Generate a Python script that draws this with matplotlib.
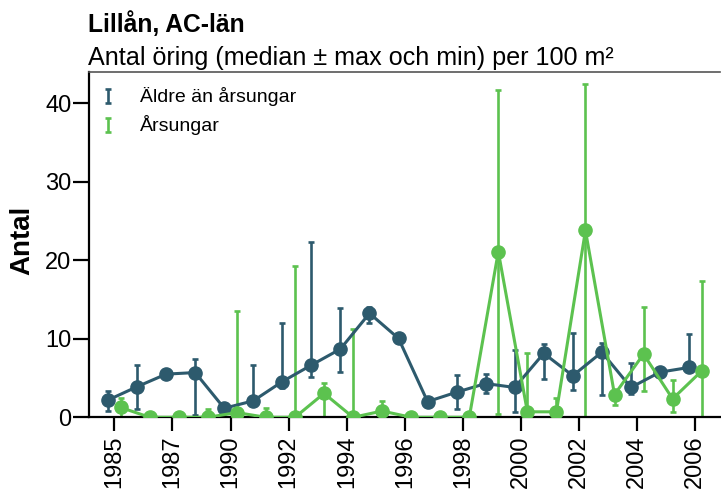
"""Lillån, AC-län: antal öring per 100 m2 (median, max, min)."""

import matplotlib
matplotlib.use("Agg")
import matplotlib.pyplot as plt  # type: ignore
from matplotlib.container import ErrorbarContainer
from matplotlib.legend_handler import HandlerErrorbar
import numpy as np

plt.rcParams["font.family"] = ["Liberation Sans", "DejaVu Sans"]

years = [1985, 1986, 1987, 1988, 1990, 1991, 1992, 1993, 1994, 1995, 1996,
         1997, 1998, 1999, 2000, 2001, 2002, 2003, 2004, 2005, 2006]

# Äldre än årsungar
old_med = [2.2, 3.9, 5.5, 5.7, 1.15, 2.1, 4.55, 6.65, 8.7, 13.25, 10.05,
           2.0, 3.2, 4.3, 3.8, 8.15, 5.3, 8.3, 3.8, 5.75, 6.35]
old_max = [3.4, 6.65, 5.6, 7.4, 1.2, 6.65, 12.0, 22.3, 13.9, 14.1, 10.1,
           2.1, 5.4, 5.5, 8.6, 9.35, 10.8, 9.5, 6.9, 5.8, 10.6]
old_min = [0.85, 1.05, 5.4, 0.3, 1.1, 1.6, 3.7, 5.1, 5.8, 12.0, 10.0,
           1.9, 1.0, 3.1, 0.7, 4.9, 3.5, 2.9, 3.0, 5.7, 6.0]

# Årsungar
yoy_med = [1.25, 0.0, 0.0, 0.0, 0.6, 0.0, 0.0, 3.05, 0.0, 0.8, 0.0,
           0.0, 0.0, 21.1, 0.7, 0.7, 23.8, 2.9, 8.05, 2.35, 5.9]
yoy_max = [2.4, 0.0, 0.0, 1.0, 13.5, 1.2, 19.3, 4.4, 11.3, 2.1, 0.0,
           0.0, 0.0, 41.7, 8.2, 2.4, 42.45, 3.3, 14.0, 4.75, 17.4]
yoy_min = [0.0, 0.0, 0.0, 0.0, 0.0, 0.0, 0.0, 0.0, 0.0, 0.0, 0.0,
           0.0, 0.0, 0.4, 0.3, 0.0, 0.0, 1.6, 3.4, 0.7, 0.0]

series = [
    ("Äldre än årsungar", old_med, old_max, old_min, "#2d5a6d", -0.218),
    ("Årsungar", yoy_med, yoy_max, yoy_min, "#5cc24f", 0.218),
]

W, H = 721, 490
fig = plt.figure(figsize=(W / 100, H / 100), dpi=100)
ax = fig.add_axes([89 / W, 1 - 417.3 / H, (720 - 89) / W, (417.3 - 72.3) / H])

idx = np.arange(len(years))
for label, med, mx, mn, color, off in series:
    med = np.array(med)
    yerr = [med - np.array(mn), np.array(mx) - med]
    x = idx + off
    ax.errorbar(x, med, yerr=yerr, fmt="none", ecolor=color, elinewidth=1.9,
                capsize=2.2, capthick=1.9, label=label, zorder=2)
    ax.plot(x, med, "-o", color=color, lw=2.2, ms=9.5, zorder=3)

ax.set_xlim(-0.874, 20.85)
ax.set_ylim(0, 43.95)
ax.set_yticks([0, 10, 20, 30, 40])
ax.set_xticks(idx[::2])
ax.set_xticklabels([str(y) for y in years[::2]], rotation=90)
ax.tick_params(axis="both", labelsize=17, width=1.6, color="black")
ax.tick_params(axis="y", length=11.2, pad=1.5)
ax.tick_params(axis="x", length=10.3, pad=2.5)

for side in ("left", "bottom"):
    ax.spines[side].set_linewidth(1.6)
    ax.spines[side].set_color("black")
ax.spines["top"].set_color("#555555")
ax.spines["top"].set_linewidth(1.2)
ax.spines["right"].set_visible(False)

ax.legend(loc="upper left", bbox_to_anchor=(0.015, 0.957), frameon=False,
          fontsize=14, handlelength=1.0, handleheight=0.55,
          handletextpad=1.15, labelspacing=0.45, borderpad=0,
          borderaxespad=0,
          handler_map={ErrorbarContainer: HandlerErrorbar(xerr_size=0.36)})

fig.text(88 / W, 1 - 31.7 / H, "Lillån, AC-län", fontsize=17.7,
         fontweight="bold", va="baseline", ha="left")
fig.text(88 / W, 1 - 65 / H, "Antal öring (median ± max och min) per 100 m²",
         fontsize=18.1, va="baseline", ha="left")
fig.text(22 / W, 1 - 240 / H, "Antal", fontsize=20, fontweight="bold",
         rotation=90, va="center", ha="center")

fig.savefig("out.png", dpi=100)
